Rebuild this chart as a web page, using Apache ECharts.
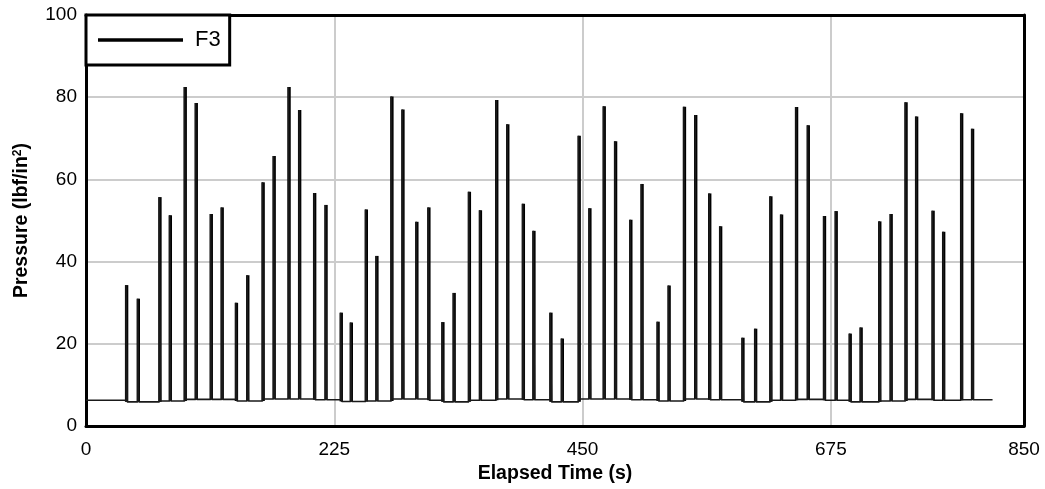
<!DOCTYPE html>
<html>
<head>
<meta charset="utf-8">
<script src="https://cdn.jsdelivr.net/npm/echarts@6/dist/echarts.min.js"></script>
<style>
html,body{margin:0;padding:0;background:#fff;}
#chart{width:1045px;height:489px;}
</style>
</head>
<body>
<div id="chart"></div>
<script>
// Spike times (s) and peak pressures (lbf/in^2)
var spikeTimes = [36.8,47.4,67.0,76.4,89.9,99.9,113.5,123.4,136.3,146.6,
  160.5,170.5,184.0,193.6,207.2,217.5,231.3,240.4,254.0,263.6,
  277.2,287.2,299.8,310.7,323.4,333.6,347.4,357.4,372.2,382.2,
  396.3,405.9,421.3,431.6,446.9,456.6,469.6,479.9,493.7,503.9,
  518.4,528.4,542.3,552.5,565.2,575.1,595.3,606.8,620.6,630.3,
  643.9,654.5,669.2,679.8,692.5,702.4,719.3,729.6,743.1,752.7,
  767.6,777.2,793.5,803.4];
var spikePeaks = [34.3,31.0,55.7,51.3,82.5,78.6,51.6,53.2,30.0,36.7,
  59.3,65.7,82.5,76.9,56.7,53.8,27.6,25.2,52.7,41.4,
  80.2,77.0,49.7,53.2,25.3,32.4,57.0,52.5,79.3,73.4,
  54.1,47.5,27.6,21.3,70.6,53.0,77.8,69.3,50.2,58.9,
  25.4,34.2,77.7,75.7,56.6,48.6,21.5,23.7,55.9,51.5,
  77.6,73.2,51.1,52.3,22.5,24.0,49.8,51.6,78.8,75.3,
  52.4,47.3,76.1,72.3];
// Baseline pressure in each gap (before first spike, between spikes, after last)
var baseLevels = [6.3,
  5.9,5.9,
  6.1,6.1,
  6.5,6.5,6.5,6.5,
  6.1,6.1,
  6.6,6.6,6.6,6.6,
  6.4,6.4,
  6.0,6.0,
  6.1,6.1,
  6.6,6.6,6.6,
  6.3,
  5.9,5.9,
  6.3,6.3,
  6.6,6.6,
  6.4,6.4,
  5.9,5.9,
  6.6,6.6,6.6,6.6,
  6.4,6.4,
  6.1,6.1,
  6.6,6.6,
  6.4,6.4,
  5.9,5.9,
  6.3,6.3,
  6.5,6.5,
  6.3,6.3,
  5.9,5.9,
  6.1,6.1,
  6.5,6.5,
  6.3,6.3,
  6.4,6.4];
var startTime = 0;
var endTime = 821.5;
var xTicks = {min: 0, max: 850, interval: 225};
var yTicks = {min: 0, max: 100, interval: 20};

var hw = 0.5;
var lineData = [[startTime, baseLevels[0]]];
var spikeData = [];
for (var i = 0; i < spikeTimes.length; i++) {
  var t = spikeTimes[i];
  lineData.push([t - hw, baseLevels[i]]);
  lineData.push([t - hw, spikePeaks[i]]);
  lineData.push([t + hw, spikePeaks[i]]);
  lineData.push([t + hw, baseLevels[i + 1]]);
  spikeData.push([t, Math.min(baseLevels[i], baseLevels[i + 1]), spikePeaks[i]]);
}
lineData.push([endTime, baseLevels[baseLevels.length - 1]]);

var FONT = 'Liberation Sans, Arial, sans-serif';
var chart = echarts.init(document.getElementById('chart'), null, {renderer: 'canvas'});
chart.setOption({
  animation: false,
  backgroundColor: '#fff',
  textStyle: {fontFamily: FONT},
  grid: {left: 86, right: 21, top: 15, bottom: 62},
  legend: {
    data: [{name: 'F3', icon: 'rect'}],
    left: 86, top: 15,
    padding: [14, 9, 14, 12],
    itemWidth: 85, itemHeight: 3.5,
    borderColor: '#000', borderWidth: 3,
    backgroundColor: '#fff',
    itemStyle: {color: '#000', borderWidth: 0},
    textStyle: {fontSize: 22, color: '#000', fontFamily: FONT, padding: [0, 0, 0, 7], lineHeight: 22}
  },
  xAxis: [{
    type: 'value', min: xTicks.min, max: xTicks.max, interval: xTicks.interval,
    name: 'Elapsed Time (s)', nameLocation: 'middle', nameGap: 35,
    nameTextStyle: {fontSize: 19.5, fontWeight: 'bold', color: '#000', fontFamily: FONT},
    axisLine: {show: true, onZero: false, lineStyle: {color: '#000', width: 3}},
    axisTick: {show: false},
    axisLabel: {fontSize: 19, color: '#000', margin: 14, fontFamily: FONT},
    splitLine: {show: true, lineStyle: {color: '#cccccc', width: 2}}
  }, {
    type: 'value', min: xTicks.min, max: xTicks.max, interval: xTicks.interval, position: 'top',
    axisLine: {show: true, onZero: false, lineStyle: {color: '#000', width: 3}},
    axisTick: {show: false}, axisLabel: {show: false}, splitLine: {show: false}
  }],
  yAxis: [{
    type: 'value', min: yTicks.min, max: yTicks.max, interval: yTicks.interval,
    name: '{n|Pressure (lbf/in}{s|2}{n|)}', nameLocation: 'middle', nameGap: 54,
    nameTextStyle: {
      color: '#000', fontFamily: FONT,
      rich: {
        n: {fontSize: 19.5, fontWeight: 'bold', color: '#000', fontFamily: FONT},
        s: {fontSize: 12, fontWeight: 'bold', color: '#000', fontFamily: FONT, verticalAlign: 'top', padding: [0, 0, 8, 0]}
      }
    },
    axisLine: {show: true, onZero: false, lineStyle: {color: '#000', width: 3}},
    axisTick: {show: false},
    axisLabel: {fontSize: 19, color: '#000', margin: 9, fontFamily: FONT},
    splitLine: {show: true, lineStyle: {color: '#cccccc', width: 2}}
  }, {
    type: 'value', min: yTicks.min, max: yTicks.max, interval: yTicks.interval, position: 'right',
    axisLine: {show: true, onZero: false, lineStyle: {color: '#000', width: 3}},
    axisTick: {show: false}, axisLabel: {show: false}, splitLine: {show: false}
  }],
  series: [{
    name: 'F3', type: 'line', symbol: 'none', showSymbol: false,
    xAxisIndex: 0, yAxisIndex: 0,
    data: lineData,
    lineStyle: {color: '#1a1a1a', width: 1.6},
    itemStyle: {color: '#000'}
  }, {
    name: 'F3', type: 'custom',
    xAxisIndex: 0, yAxisIndex: 0,
    data: spikeData,
    renderItem: function (params, api) {
      var b = api.coord([api.value(0), api.value(1)]);
      var p = api.coord([api.value(0), api.value(2)]);
      return {
        type: 'line',
        shape: {x1: b[0], y1: b[1], x2: p[0], y2: p[1]},
        style: {stroke: '#000', lineWidth: 3.4, lineCap: 'butt'}
      };
    }
  }]
});
</script>
</body>
</html>
